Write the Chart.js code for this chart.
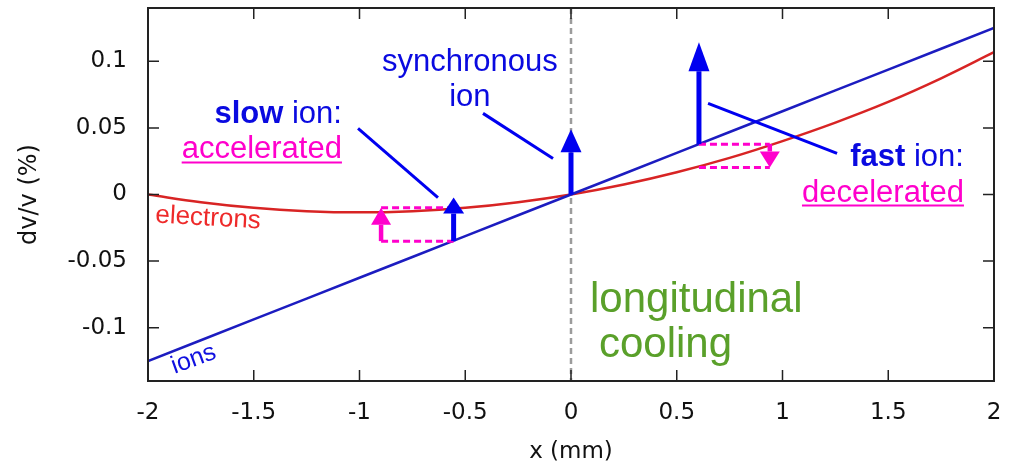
<!DOCTYPE html>
<html>
<head>
<meta charset="utf-8">
<script src="https://cdn.jsdelivr.net/npm/chart.js@4.4.0/dist/chart.umd.min.js"></script>
<style>
  html, body { margin: 0; padding: 0; background: #fff; }
  #wrap { width: 1009px; height: 464px; position: relative; }
</style>
</head>
<body>
<div id="wrap"><canvas id="chart"></canvas></div>
<script>
// values (x in mm, dv/v in %)
const xValues = [-2, -1.75, -1.5, -1.25, -1, -0.75, -0.5, -0.25, 0, 0.25, 0.5, 0.75, 1, 1.25, 1.5, 1.75, 2];
const ionValues = [-0.125, -0.1094, -0.0938, -0.0781, -0.0625, -0.0469, -0.0313, -0.0156, 0, 0.0156, 0.0313, 0.0469, 0.0625, 0.0781, 0.0938, 0.1094, 0.125];
const electronValues = [0, -0.0058, -0.0100, -0.0125, -0.0134, -0.0125, -0.0100, -0.0058, 0, 0.0075, 0.0167, 0.0275, 0.0401, 0.0540, 0.0695, 0.0872, 0.1068];

const xTicks = [-2, -1.5, -1, -0.5, 0, 0.5, 1, 1.5, 2];
const xTickLabels = ['-2', '-1.5', '-1', '-0.5', '0', '0.5', '1', '1.5', '2'];
const yTicks = [-0.1, -0.05, 0, 0.05, 0.1];
const yTickLabels = ['-0.1', '-0.05', '0', '0.05', '0.1'];

// ion kicks: [x, from, to]
const ionArrows = [[-0.555, -0.035, -0.0023], [0, 0, 0.0489], [0.605, 0.0378, 0.1143]];
// velocity change towards the electrons: [x, from, to]
const electronKicks = [[-0.898, -0.035, -0.0100], [0.94, 0.0378, 0.0203]];
// dashed guides: [xFrom, xTo, y]
const kickGuides = [[-0.898, -0.555, -0.0100], [-0.898, -0.555, -0.035], [0.605, 0.94, 0.0378], [0.605, 0.94, 0.0203]];
// label pointers: [x1, y1, x2, y2]
const pointers = [[-1.007, 0.0496, -0.629, -0.0023], [-0.416, 0.0609, -0.085, 0.0271], [0.648, 0.0684, 1.258, 0.0308]];

const BLUE = '#0000f0';
const TEXT_BLUE = '#0a0ae0';
const MAGENTA = '#ff00cc';
const ION_COLOR = '#1c1cc0';
const ELECTRON_COLOR = '#d82424';
const GREEN = '#5aa02a';
const FRAME = '#222222';
const SANS = "'Liberation Sans', Arial, sans-serif";
const AXIS_FONT = "'DejaVu Sans', sans-serif";

const ionHeadLen = [16, 23, 29];
const kickHeadLen = [17, 16];

// text labels in data coordinates
const labels = [
  { x: -0.478, y: 0.0925, align: 'center', size: 31, parts: [{ t: 'synchronous', c: TEXT_BLUE }] },
  { x: -0.478, y: 0.0662, align: 'center', size: 31, parts: [{ t: 'ion', c: TEXT_BLUE }] },
  { x: -1.083, y: 0.0534, align: 'right', size: 31, parts: [{ t: 'slow', c: TEXT_BLUE, bold: true }, { t: ' ion:', c: TEXT_BLUE }] },
  { x: -1.083, y: 0.0271, align: 'right', size: 31, underline: true, parts: [{ t: 'accelerated', c: MAGENTA }] },
  { x: 1.858, y: 0.0211, align: 'right', size: 31, parts: [{ t: 'fast', c: TEXT_BLUE, bold: true }, { t: ' ion:', c: TEXT_BLUE }] },
  { x: 1.858, y: -0.0053, align: 'right', size: 31, underline: true, parts: [{ t: 'decelerated', c: MAGENTA }] },
  { x: -1.967, y: -0.021, align: 'left', size: 26, rot: 3.2, parts: [{ t: 'electrons', c: '#ee2a2a' }] },
  { x: -1.875, y: -0.1345, align: 'left', size: 25, rot: -20, parts: [{ t: 'ions', c: '#1010e0' }] },
  { x: 0.09, y: -0.088, align: 'left', size: 42, parts: [{ t: 'longitudinal', c: GREEN }] },
  { x: 0.132, y: -0.1218, align: 'left', size: 42, parts: [{ t: 'cooling', c: GREEN }] },
];

function drawArrow(ctx, x, y0, y1, color, width, headLen, headW) {
  const dir = y1 < y0 ? 1 : -1; // 1 = pointing up
  const base = y1 + dir * headLen;
  ctx.save();
  ctx.strokeStyle = color;
  ctx.fillStyle = color;
  ctx.lineWidth = width;
  ctx.beginPath();
  ctx.moveTo(x, y0);
  ctx.lineTo(x, base);
  ctx.stroke();
  ctx.beginPath();
  ctx.moveTo(x, y1);
  ctx.lineTo(x - headW / 2, base);
  ctx.lineTo(x + headW / 2, base);
  ctx.closePath();
  ctx.fill();
  ctx.restore();
}

const decorPlugin = {
  id: 'decor',
  beforeDatasetsDraw(chart) {
    const { ctx, chartArea: a, scales: { x } } = chart;
    const px = x.getPixelForValue(0);
    ctx.save();
    ctx.strokeStyle = '#9c9c9c';
    ctx.lineWidth = 2.5;
    ctx.setLineDash([6, 4]);
    ctx.beginPath();
    ctx.moveTo(px, a.top);
    ctx.lineTo(px, a.bottom);
    ctx.stroke();
    ctx.restore();
  },
  afterDatasetsDraw(chart) {
    const { ctx, chartArea: a, scales: { x, y } } = chart;

    // frame with inward ticks on all sides
    ctx.save();
    ctx.strokeStyle = FRAME;
    ctx.lineWidth = 2;
    ctx.strokeRect(a.left, a.top, a.right - a.left, a.bottom - a.top);
    ctx.lineWidth = 1.5;
    ctx.beginPath();
    xTicks.forEach(v => {
      const p = x.getPixelForValue(v);
      ctx.moveTo(p, a.bottom); ctx.lineTo(p, a.bottom - 11);
      ctx.moveTo(p, a.top); ctx.lineTo(p, a.top + 11);
    });
    yTicks.forEach(v => {
      const p = y.getPixelForValue(v);
      ctx.moveTo(a.left, p); ctx.lineTo(a.left + 11, p);
      ctx.moveTo(a.right, p); ctx.lineTo(a.right - 11, p);
    });
    ctx.stroke();
    ctx.restore();

    // dashed guides
    ctx.save();
    ctx.strokeStyle = MAGENTA;
    ctx.lineWidth = 3;
    ctx.setLineDash([7, 4]);
    kickGuides.forEach(([x0, x1, v]) => {
      ctx.beginPath();
      ctx.moveTo(x.getPixelForValue(x0), y.getPixelForValue(v));
      ctx.lineTo(x.getPixelForValue(x1), y.getPixelForValue(v));
      ctx.stroke();
    });
    ctx.restore();

    // pointer lines
    ctx.save();
    ctx.strokeStyle = BLUE;
    ctx.lineWidth = 3;
    pointers.forEach(([x0, y0, x1, y1]) => {
      ctx.beginPath();
      ctx.moveTo(x.getPixelForValue(x0), y.getPixelForValue(y0));
      ctx.lineTo(x.getPixelForValue(x1), y.getPixelForValue(y1));
      ctx.stroke();
    });
    ctx.restore();

    electronKicks.forEach(([xv, from, to], i) => {
      drawArrow(ctx, x.getPixelForValue(xv), y.getPixelForValue(from), y.getPixelForValue(to), MAGENTA, 4.5, kickHeadLen[i], 20);
    });
    ionArrows.forEach(([xv, from, to], i) => {
      drawArrow(ctx, x.getPixelForValue(xv), y.getPixelForValue(from), y.getPixelForValue(to), BLUE, 5, ionHeadLen[i], 21);
    });

    // text labels
    labels.forEach(l => {
      ctx.save();
      const fonts = l.parts.map(p => `${p.bold ? 'bold ' : ''}${l.size}px ${SANS}`);
      const widths = l.parts.map((p, i) => { ctx.font = fonts[i]; return ctx.measureText(p.t).width; });
      const total = widths.reduce((s, w) => s + w, 0);
      ctx.translate(x.getPixelForValue(l.x), y.getPixelForValue(l.y));
      if (l.rot) ctx.rotate(l.rot * Math.PI / 180);
      let cx = l.align === 'right' ? -total : l.align === 'center' ? -total / 2 : 0;
      const start = cx;
      ctx.textBaseline = 'alphabetic';
      ctx.textAlign = 'left';
      l.parts.forEach((p, i) => {
        ctx.font = fonts[i];
        ctx.fillStyle = p.c;
        ctx.fillText(p.t, cx, 0);
        cx += widths[i];
      });
      if (l.underline) {
        ctx.strokeStyle = l.parts[0].c;
        ctx.lineWidth = 2;
        ctx.beginPath();
        ctx.moveTo(start, 4);
        ctx.lineTo(cx, 4);
        ctx.stroke();
      }
      ctx.restore();
    });
  },
};

new Chart(document.getElementById('chart'), {
  type: 'scatter',
  data: {
    datasets: [
      {
        label: 'ions',
        data: xValues.map((v, i) => ({ x: v, y: ionValues[i] })),
        showLine: true,
        borderColor: ION_COLOR,
        borderWidth: 2.5,
        pointRadius: 0,
        tension: 0,
      },
      {
        label: 'electrons',
        data: xValues.map((v, i) => ({ x: v, y: electronValues[i] })),
        showLine: true,
        borderColor: ELECTRON_COLOR,
        borderWidth: 2.5,
        pointRadius: 0,
        tension: 0.4,
      },
    ],
  },
  options: {
    responsive: true,
    maintainAspectRatio: false,
    animation: false,
    layout: { padding: { top: 8, right: 15, left: 0, bottom: 0 } },
    plugins: { legend: { display: false }, tooltip: { enabled: false } },
    scales: {
      x: {
        type: 'linear',
        min: -2,
        max: 2,
        afterBuildTicks: s => { s.ticks = xTicks.map(v => ({ value: v })); },
        afterFit: s => { s.height = 83; s.paddingLeft = 0; s.paddingRight = 0; },
        grid: { display: false, drawTicks: false },
        border: { display: false },
        ticks: {
          color: '#111',
          padding: 18,
          font: { family: AXIS_FONT, size: 23 },
          callback: (v) => xTickLabels[xTicks.indexOf(v)] ?? '',
        },
        title: {
          display: true,
          text: 'x (mm)',
          color: '#111',
          font: { family: AXIS_FONT, size: 23 },
          padding: { top: 0, bottom: -2 },
        },
      },
      y: {
        type: 'linear',
        min: -0.14,
        max: 0.14,
        afterBuildTicks: s => { s.ticks = yTicks.map(v => ({ value: v })); },
        afterFit: s => { s.width = 148; s.paddingTop = 0; s.paddingBottom = 0; },
        grid: { display: false, drawTicks: false },
        border: { display: false },
        ticks: {
          color: '#111',
          padding: 21,
          font: { family: AXIS_FONT, size: 23 },
          callback: (v) => {
            const i = yTicks.findIndex(t => Math.abs(t - v) < 1e-9);
            return i >= 0 ? yTickLabels[i] : '';
          },
        },
        title: {
          display: true,
          text: 'dv/v (%)',
          color: '#111',
          font: { family: AXIS_FONT, size: 24 },
          padding: { top: 15, bottom: 0 },
        },
      },
    },
  },
  plugins: [decorPlugin],
});
</script>
</body>
</html>
